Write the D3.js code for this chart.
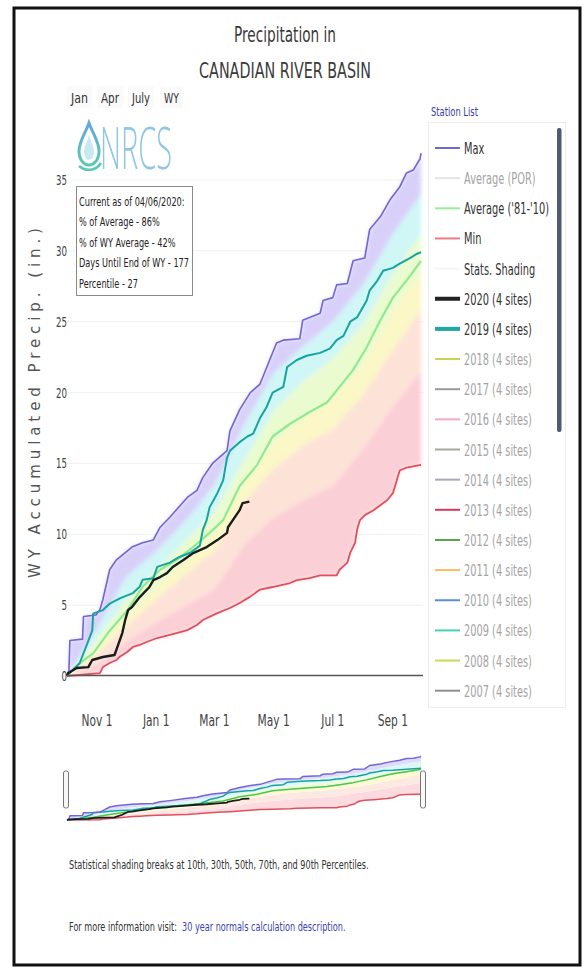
<!DOCTYPE html>
<html><head><meta charset="utf-8">
<script src="https://cdn.jsdelivr.net/npm/d3@7"></script>
<style>html,body{margin:0;padding:0;background:#fff;} svg{display:block;}</style>
</head><body>
<svg id="chart" width="587" height="968"></svg>
<script>
// ---------------- DATA ----------------
const titleLines = ["Precipitation in", "CANADIAN RIVER BASIN"];
const rangeButtons = ["Jan", "Apr", "July", "WY"];
const monthTickDays = [31, 92, 152, 213, 274, 336];
const monthTickLabels = ["Nov 1", "Jan 1", "Mar 1", "May 1", "Jul 1", "Sep 1"];
const yTicks = [0, 5, 10, 15, 20, 25, 30, 35];
const infoLines = ["Current as of 04/06/2020:", "% of Average - 86%", "% of WY Average - 42%", "Days Until End of WY - 177", "Percentile - 27"];

// days since Oct 1 of water year
const maxDays = [0,2,3,16,17,30,34,37,44,51,67,78,89,96,106,124,134,140,150,165,168,178,189,199,216,223,240,243,261,264,274,278,289,295,307,312,323,333,343,350,357,364,365];
const maxVals = [0,0.4,2.5,2.6,4.2,4.3,4.7,5.4,7.5,8.2,9.1,9.4,9.6,10.5,11.2,12.6,13.1,14.0,15.0,15.9,17.3,18.8,20.0,20.6,23.5,23.7,23.8,25.1,25.6,26.5,26.7,27.6,27.7,29.3,29.5,31.5,32.4,33.6,34.5,35.5,35.7,36.5,36.9];

const wy2019Days = [0,1,13,21,26,27,37,44,55,68,75,78,89,93,106,116,127,137,140,144,147,155,161,165,168,178,186,192,199,206,212,223,227,237,247,261,271,278,285,292,299,309,312,320,326,336,343,354,361,365];
const wy2019Vals = [0,0.1,0.9,2.3,3.2,4.4,4.65,5.1,5.5,5.85,6.3,6.8,6.9,7.7,8.0,8.4,8.7,9.2,10.3,11.0,11.9,12.9,13.8,15.4,15.9,16.5,16.9,17.1,18.2,19.0,20.0,20.4,21.8,22.3,22.6,22.8,23.1,23.7,24.0,25.0,25.3,26.5,27.2,27.9,28.6,28.8,29.1,29.5,29.8,29.9];

const wy2020Days = [0,1,10,22,26,37,49,52,57,60,63,67,75,85,89,96,103,109,120,130,144,155,165,166,171,178,181,188];
const wy2020Vals = [0,0.2,0.56,0.63,1.13,1.34,1.48,2.05,3.03,3.95,4.65,4.87,5.57,6.28,6.77,6.98,7.26,7.69,8.18,8.67,9.1,9.59,10.1,10.5,11.0,11.7,12.2,12.3];

const avgDays = [0,13,27,44,62,78,96,113,130,147,161,178,196,212,230,247,268,281,295,309,323,336,350,365];
const avgVals = [0,0.9,1.6,3.2,4.6,6.3,7.5,8.2,9.1,10.1,11.0,13.4,14.9,16.9,17.8,18.5,19.3,20.4,21.6,23.2,25.1,26.7,27.9,29.3];

const minDays = [0,34,37,44,51,54,62,68,75,82,93,106,113,124,134,140,155,168,178,189,199,212,230,237,250,261,278,281,289,292,297,299,302,307,316,330,336,343,350,365];
const minVals = [0,0.2,0.63,0.92,1.13,1.34,1.69,2.05,2.19,2.4,2.68,2.9,3.03,3.24,3.6,3.95,4.44,4.8,5.15,5.6,6.1,6.28,6.56,6.77,6.9,7.1,7.1,7.5,8.0,8.7,9.4,10.3,11.0,11.35,11.7,12.4,12.9,14.5,14.7,14.9];

const pctDays = [0, 31, 61, 92, 123, 152, 183, 213, 244, 274, 305, 336, 365];
const p90 = [0, 3.4, 7.0, 8.8, 11.0, 13.5, 17.8, 21.4, 23.3, 25.0, 27.6, 31.2, 34.0];
const p70 = [0, 2.6, 5.4, 7.5, 9.6, 11.6, 15.3, 18.7, 20.8, 22.4, 24.8, 28.4, 31.2];
const p50 = [0, 1.9, 4.2, 6.2, 8.2, 10.0, 13.6, 16.4, 18.2, 19.6, 22.0, 25.8, 28.5];
const p30 = [0, 1.5, 3.5, 5.4, 7.2, 8.8, 12.3, 14.6, 16.3, 17.4, 19.8, 23.0, 25.8];
const p10 = [0, 0.8, 2.4, 3.8, 5.0, 6.1, 9.3, 11.2, 12.4, 13.4, 16.0, 19.0, 21.5];

const legendNames = ["Max", "Average (POR)", "Average ('81-'10)", "Min", "Stats. Shading", "2020 (4 sites)", "2019 (4 sites)", "2018 (4 sites)", "2017 (4 sites)", "2016 (4 sites)", "2015 (4 sites)", "2014 (4 sites)", "2013 (4 sites)", "2012 (4 sites)", "2011 (4 sites)", "2010 (4 sites)", "2009 (4 sites)", "2008 (4 sites)", "2007 (4 sites)"];
const legendColors = ["#7166d6", "#e4e4e4", "#98ee98", "#f27a86", "#f6f6f6", "#222222", "#1ea7a3", "#cbd150", "#9a9a9a", "#f2aac6", "#a8a898", "#a9a9bb", "#d63a58", "#5aa04a", "#f5bd6a", "#5b8fd0", "#47d2b8", "#c4de50", "#8e8e8e"];
const legendActive = [true, false, true, true, true, true, true, false, false, false, false, false, false, false, false, false, false, false, false];
const legendThick = [false, false, false, false, false, true, true, false, false, false, false, false, false, false, false, false, false, false, false];

const bandColors = ["#fbcfd6", "#fde2d8", "#fbf7c6", "#eafbd0", "#d0f6f6", "#d8d0f9"];

// ---------------- HELPERS ----------------
const svg = d3.select("#chart");
const FONT = "DejaVu Sans";
function measure(s, size, family) {
  const t = svg.append("text").attr("font-family", family || FONT).attr("font-size", size).text(s);
  const L = t.node().getComputedTextLength();
  t.remove();
  return L;
}
function txt(g, s, x, y, o) {
  o = o || {};
  const fam = o.family || FONT;
  const t = g.append("text").attr("font-family", fam).attr("font-size", o.size || 12)
    .attr("fill", o.fill || "#333").attr("text-anchor", o.anchor || "start").text(s);
  if (o.weight) t.attr("font-weight", o.weight);
  let sx = o.sx || 1;
  if (o.w) sx = o.w / t.node().getComputedTextLength();
  t.attr("transform", `translate(${x},${y}) scale(${sx},1)`);
  return t;
}
const pairs = (ds, vs) => d3.zip(ds, vs);

// ---------------- SCALES ----------------
const x = d3.scaleLinear().domain([0, 366]).range([67, 422]);
const y = d3.scaleLinear().domain([0, 35]).range([676, 180]);
const yNav = d3.scaleLinear().domain([0, 37]).range([820, 756]);

// frame
svg.append("rect").attr("x", 14).attr("y", 8).attr("width", 566).attr("height", 957)
  .attr("fill", "#fff").attr("stroke", "#111").attr("stroke-width", 3);

// defs
const defs = svg.append("defs");
defs.append("filter").attr("id", "blur").attr("x", "-5%").attr("y", "-5%").attr("width", "110%").attr("height", "110%")
  .append("feGaussianBlur").attr("stdDeviation", 2.2);
const grad = defs.append("linearGradient").attr("id", "dropGrad").attr("x1", 0).attr("y1", 0).attr("x2", 0).attr("y2", 1);
grad.append("stop").attr("offset", "0%").attr("stop-color", "#4a98d8");
grad.append("stop").attr("offset", "100%").attr("stop-color", "#3cc0a8");

// title
txt(svg, titleLines[0], 285, 42, {size: 21, anchor: "middle", fill: "#3a3a3a", w: 102});
txt(svg, titleLines[1], 285, 78, {size: 22, anchor: "middle", fill: "#3a3a3a", w: 172});

// range buttons
const btnX = [71, 101, 132, 164], btnW = [17, 18, 18, 15];
rangeButtons.forEach((b, i) => {
  svg.append("rect").attr("x", btnX[i] - 4).attr("y", 86).attr("width", btnW[i] + 8).attr("height", 22).attr("fill", "#fafafa");
  txt(svg, b, btnX[i], 103, {size: 14, fill: "#333", w: btnW[i]});
});

// gridlines
const grid = svg.append("g");
yTicks.filter(v => v > 0).forEach(v => {
  grid.append("line").attr("x1", 67).attr("x2", 423).attr("y1", y(v)).attr("y2", y(v))
    .attr("stroke", "#f0f0f0").attr("stroke-width", 1);
});

// bands
const lineMain = d3.line().x(d => x(d[0])).y(d => y(d[1]));
const lineNav = d3.line().x(d => x(d[0])).y(d => yNav(d[1]));
const bounds = [pairs(minDays, minVals), pairs(pctDays, p10), pairs(pctDays, p30), pairs(pctDays, p50), pairs(pctDays, p70), pairs(pctDays, p90), pairs(maxDays, maxVals)];
function bandPath(gen, lo, hi) { return gen(hi.concat(lo.slice().reverse())) + "Z"; }
const bandG = svg.append("g").attr("filter", "url(#blur)");
for (let i = 0; i < 6; i++) {
  bandG.append("path").attr("d", bandPath(lineMain, bounds[i], bounds[i + 1])).attr("fill", bandColors[i]).attr("stroke", "none");
}

// series lines
const seriesG = svg.append("g").attr("fill", "none").attr("stroke-linejoin", "round");
seriesG.append("path").attr("d", lineMain(pairs(avgDays, avgVals))).attr("stroke", "#8fea8f").attr("stroke-width", 2.2);
seriesG.append("path").attr("d", lineMain(pairs(minDays, minVals))).attr("stroke", "#e0505c").attr("stroke-width", 1.8);
seriesG.append("path").attr("d", lineMain(pairs(maxDays, maxVals))).attr("stroke", "#7166d6").attr("stroke-width", 1.6);
seriesG.append("path").attr("d", lineMain(pairs(wy2019Days, wy2019Vals))).attr("stroke", "#17a3a0").attr("stroke-width", 2);
seriesG.append("path").attr("d", lineMain(pairs(wy2020Days, wy2020Vals))).attr("stroke", "#1b1b1b").attr("stroke-width", 2.4);

// axis baseline
svg.append("line").attr("x1", 67).attr("x2", 423).attr("y1", 675.5).attr("y2", 675.5).attr("stroke", "#555").attr("stroke-width", 1.4);

// y tick labels
const ySx = 11 / measure("35", 14);
yTicks.forEach(v => txt(svg, String(v), 67, y(v) + 5, {size: 14, anchor: "end", fill: "#444", sx: ySx}));

// y title
svg.append("text").attr("font-family", FONT).attr("font-size", 15).attr("fill", "#555")
  .attr("text-anchor", "middle").attr("textLength", 350).attr("lengthAdjust", "spacing")
  .attr("transform", "translate(40,403) rotate(-90)").text("WY Accumulated Precip. (in.)");

// x tick labels
const xSx = 31 / measure("Nov 1", 15);
monthTickDays.forEach((d, i) => txt(svg, monthTickLabels[i], x(d), 726, {size: 15, anchor: "middle", fill: "#444", sx: xSx}));

// logo
const logo = svg.append("g").attr("opacity", 0.85);
logo.append("path").attr("d", "M89 123 C85 134 79 142 79 151 C79 160 84 165 89 165 C94 165 99 160 99 151 C99 142 93 134 89 123 Z")
  .attr("fill", "none").attr("stroke", "url(#dropGrad)").attr("stroke-width", 3);
logo.append("path").attr("d", "M89 135 C87 142 84 147 84 152 C84 157 87 160 89 160 C91 160 94 157 94 152 C94 147 91 142 89 135 Z")
  .attr("fill", "#bfe6f0");
logo.append("path").attr("d", "M79 166 C86 172 96 171 101 163").attr("fill", "none").attr("stroke", "#3cc0a8").attr("stroke-width", 2.5);
logo.append("text").attr("x", 100).attr("y", 169).attr("font-family", "Open Sans").attr("font-weight", 300)
  .attr("font-size", 58).attr("fill", "#7ebde0").attr("textLength", 72).attr("lengthAdjust", "spacingAndGlyphs").text("NRCS");

// info box
svg.append("rect").attr("x", 76.5).attr("y", 186.5).attr("width", 116).attr("height", 109)
  .attr("fill", "#fff").attr("stroke", "#8a8a8a").attr("stroke-width", 1);
const infoSx = 110 / measure(infoLines[3], 13);
infoLines.forEach((s, i) => txt(svg, s, 79, 206 + i * 20.4, {size: 13, fill: "#222", sx: infoSx}));

// legend
txt(svg, "Station List", 431, 116, {size: 12, fill: "#3c3ca8", w: 47});
svg.append("rect").attr("x", 428.5).attr("y", 122.5).attr("width", 137).attr("height", 585)
  .attr("fill", "#fff").attr("stroke", "#ececec").attr("stroke-width", 1);
svg.append("rect").attr("x", 557).attr("y", 128).attr("width", 4.5).attr("height", 304).attr("rx", 2).attr("fill", "#4e5b70");
const legSx = 68 / measure("2018 (4 sites)", 16);
legendNames.forEach((n, i) => {
  const cy = 148 + i * 30.15;
  svg.append("line").attr("x1", 435).attr("x2", 460).attr("y1", cy).attr("y2", cy)
    .attr("stroke", legendColors[i]).attr("stroke-width", legendThick[i] ? 4 : 2);
  txt(svg, n, 464, cy + 6, {size: 16, fill: legendActive[i] ? "#333" : "#a4a4a4", sx: legSx});
});

// navigator
const navBandG = svg.append("g").attr("opacity", 0.75);
for (let i = 0; i < 6; i++) {
  navBandG.append("path").attr("d", bandPath(lineNav, bounds[i], bounds[i + 1])).attr("fill", bandColors[i]).attr("stroke", "none");
}
const navG = svg.append("g").attr("fill", "none").attr("stroke-linejoin", "round");
navG.append("path").attr("d", lineNav(pairs(minDays, minVals))).attr("stroke", "#e0505c").attr("stroke-width", 1.5);
navG.append("path").attr("d", lineNav(pairs(avgDays, avgVals))).attr("stroke", "#4cc44c").attr("stroke-width", 1.5);
navG.append("path").attr("d", lineNav(pairs(wy2019Days, wy2019Vals))).attr("stroke", "#17a3a0").attr("stroke-width", 1.5);
navG.append("path").attr("d", lineNav(pairs(maxDays, maxVals))).attr("stroke", "#7166d6").attr("stroke-width", 1.5);
navG.append("path").attr("d", lineNav(pairs(wy2020Days, wy2020Vals))).attr("stroke", "#1b1b1b").attr("stroke-width", 1.8);
[x(0) - 1, x(366) + 1].forEach(hx => {
  svg.append("rect").attr("x", hx - 2.5).attr("y", 771).attr("width", 5).attr("height", 37).attr("rx", 2)
    .attr("fill", "#f8f8f8").attr("stroke", "#777").attr("stroke-width", 1);
});

// footer
const foot1 = "Statistical shading breaks at 10th, 30th, 50th, 70th, and 90th Percentiles.";
const footSx = 300 / measure(foot1, 12.5);
txt(svg, foot1, 69, 869, {size: 12.5, fill: "#333", sx: footSx});
const foot2a = "For more information visit: ";
txt(svg, foot2a, 69, 931, {size: 12.5, fill: "#333", sx: footSx});
txt(svg, "30 year normals calculation description.", 182, 931, {size: 12.5, fill: "#3b45b0", sx: footSx});
</script>
</body></html>
